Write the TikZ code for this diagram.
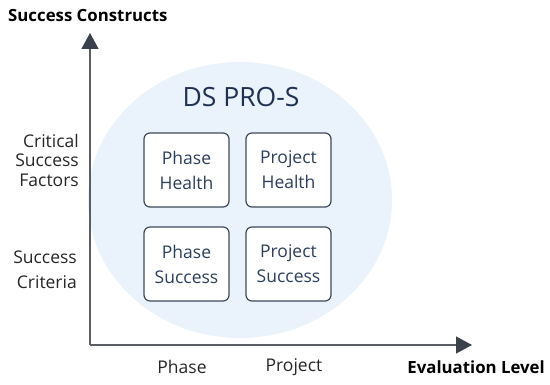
\documentclass[tikz,border=0pt]{standalone}
\usepackage{fontspec}
\setmainfont{Open Sans}
\usetikzlibrary{arrows.meta}
\definecolor{bubble}{HTML}{EAF2FB}
\definecolor{boxline}{HTML}{3E4A5C}
\definecolor{navy}{HTML}{1F3152}
\definecolor{boxtext}{HTML}{2C3E5C}
\definecolor{axisc}{HTML}{5A5E64}
\definecolor{tipc}{HTML}{3A414C}
\definecolor{labc}{HTML}{262626}
\tikzset{
  cell/.style={draw=boxline, line width=1.2pt, rounded corners=6pt, fill=white,
    minimum width=85pt, minimum height=74pt, align=center, text=boxtext,
    font=\fontsize{17.5}{25}\selectfont},
  axislab/.style={text=labc, font=\fontsize{17.5}{19.5}\selectfont},
  axistitle/.style={text=black, font=\fontsize{16.8}{20}\selectfont\bfseries},
  axisline/.style={draw=axisc, line width=1.5pt, -{Triangle[width=17pt,length=16pt,color=tipc]}}
}
\begin{document}
\begin{tikzpicture}[x=1pt,y=-1pt]
\useasboundingbox (0,0) rectangle (550,385);
\fill[bubble] (240,200) ellipse [x radius=152, y radius=138];
\coordinate (origin) at (90,345);
\coordinate (ytip) at (90,33);
\coordinate (xtip) at (472,345);
\draw[axisline] (origin) -- (ytip);
\draw[axisline] (origin) -- (xtip);
\node[axistitle, anchor=west, inner sep=0pt] (ytitle) at (8,16) {Success Constructs};
\node[axistitle, anchor=east, inner sep=0pt] (xtitle) at (545,367) {Evaluation Level};
\node[text=navy, font=\fontsize{26.5}{30}\selectfont] (title) at (241,97) {DS PRO-S};
\node[cell] (ph) at (186.5,170) {Phase\\Health};
\node[cell] (pjh) at (288.5,170) {Project\\Health};
\node[cell] (ps) at (186.5,264) {Phase\\Success};
\node[cell] (pjs) at (288.5,264) {Project\\Success};
\node[axislab, align=right, anchor=east, inner sep=0pt] (csf) at (79,160) {Critical\\Success\\Factors};
\node[axislab, align=right, anchor=east, inner sep=0pt, font=\fontsize{17.5}{25}\selectfont] (sc) at (77,270) {Success\\Criteria};
\node[axislab] (xphase) at (182,367) {Phase};
\node[axislab] (xproj) at (294,367) {Project};
\end{tikzpicture}
\end{document}
